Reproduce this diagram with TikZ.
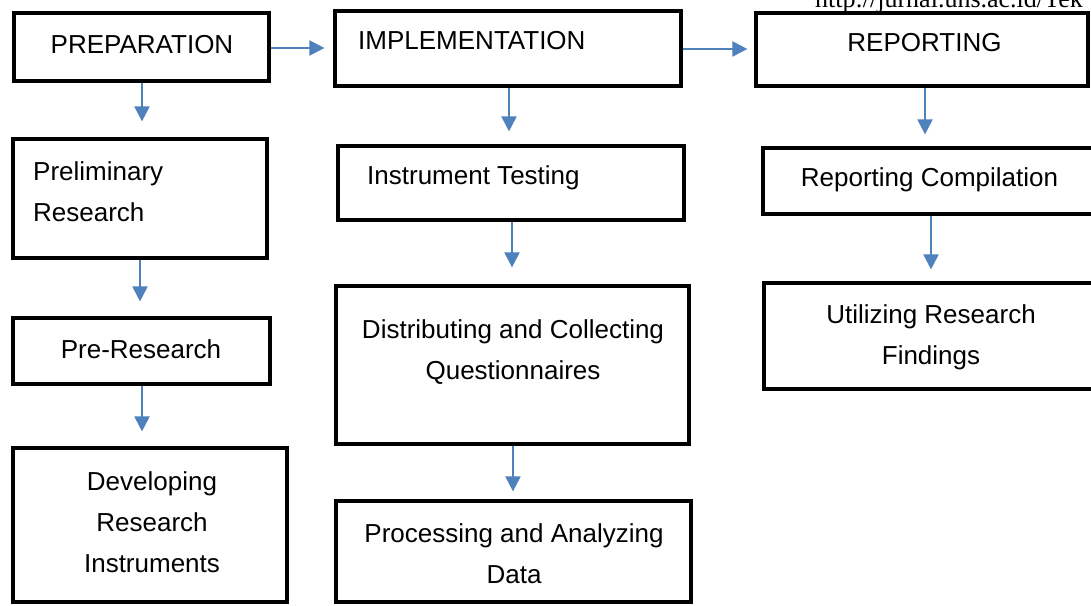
\documentclass[tikz,border=0pt]{standalone}
\usepackage{fontspec}
\setmainfont{Liberation Sans}
\newfontfamily\urlfont{Liberation Serif}
\usetikzlibrary{arrows.meta}
\definecolor{arrowblue}{HTML}{4F81BD}
\tikzset{
  box/.style={draw=black, line width=3.2pt, fill=white, inner sep=0pt, rectangle},
  txt/.style={font=\fontsize{26}{41}\selectfont, inner sep=0pt, align=center},
  txtl/.style={font=\fontsize{26}{41}\selectfont, inner sep=0pt, align=left, anchor=west},
  flow/.style={draw=arrowblue, line width=2pt, -{Triangle[length=15pt,width=15pt]}},
}
\begin{document}
\begin{tikzpicture}[x=1pt,y=-1pt]
\useasboundingbox (0,0) rectangle (1091,605);
\fill[white] (0,0) rectangle (1091,605);
% header url
\node[font=\urlfont\fontsize{26}{30}\selectfont, anchor=base west, inner sep=0pt] (url) at (815,7) {http://jurnal.uns.ac.id/Tek};
% boxes
\node[box, minimum width=255pt, minimum height=68pt] (prep) at (141.5,47) {};
\node[box, minimum width=346pt, minimum height=75pt] (impl) at (508,48.5) {};
\node[box, minimum width=332pt, minimum height=73pt] (rep) at (922,49.5) {};
\node[box, minimum width=254pt, minimum height=119pt] (prelim) at (140,198.5) {};
\node[box, minimum width=257pt, minimum height=66pt] (pre) at (141.5,351) {};
\node[box, minimum width=274pt, minimum height=154pt] (dev) at (150,525) {};
\node[box, minimum width=346pt, minimum height=74pt] (itest) at (511,183) {};
\node[box, minimum width=353pt, minimum height=158pt] (dist) at (512.5,365) {};
\node[box, minimum width=355pt, minimum height=101pt] (proc) at (513.5,551.5) {};
\node[box, minimum width=340pt, minimum height=66pt] (rcomp) at (933,181) {};
\node[box, minimum width=340pt, minimum height=106pt] (util) at (934,336) {};
% texts
\node[txt] (tprep) at (142,45) {PREPARATION};
\node[txtl] (timpl) at (358,41) {IMPLEMENTATION};
\node[txt] (trep) at (924.5,43) {REPORTING};
\node[txtl] (tprelim) at (33,192) {Preliminary\\Research};
\node[txt] (tpre) at (141,349) {Pre-Research};
\node[txt] (tdev) at (152,522) {Developing\\Research\\Instruments};
\node[txtl] (titest) at (367,178) {Instrument Testing};
\node[txt] (tdist) at (513,352) {Distributing and Collecting\\Questionnaires};
\node[txt] (tproc) at (514,554) {Processing and Analyzing\\Data};
\node[txt] (trcomp) at (929.5,180) {Reporting Compilation};
\node[txt] (tutil) at (931,337) {Utilizing Research\\Findings};
% arrows
\draw[flow, shorten >=9pt] (prep.east |- 0,48) -- (impl.west |- 0,48);
\draw[flow, shorten >=7pt] (impl.east |- 0,49) -- (rep.west |- 0,49);
\draw[flow, shorten >=16pt] (prep.south -| 142,0) -- (prelim.north -| 142,0);
\draw[flow, shorten >=15pt] (prelim.south -| 140,0) -- (pre.north -| 140,0);
\draw[flow, shorten >=15pt] (pre.south -| 142,0) -- (dev.north -| 142,0);
\draw[flow, shorten >=13pt] (impl.south -| 509,0) -- (itest.north -| 509,0);
\draw[flow, shorten >=17pt] (itest.south -| 512,0) -- (dist.north -| 512,0);
\draw[flow, shorten >=8pt] (dist.south -| 513,0) -- (proc.north -| 513,0);
\draw[flow, shorten >=12pt] (rep.south -| 925,0) -- (rcomp.north -| 925,0);
\draw[flow, shorten >=12pt] (rcomp.south -| 931,0) -- (util.north -| 931,0);
\end{tikzpicture}
\end{document}
